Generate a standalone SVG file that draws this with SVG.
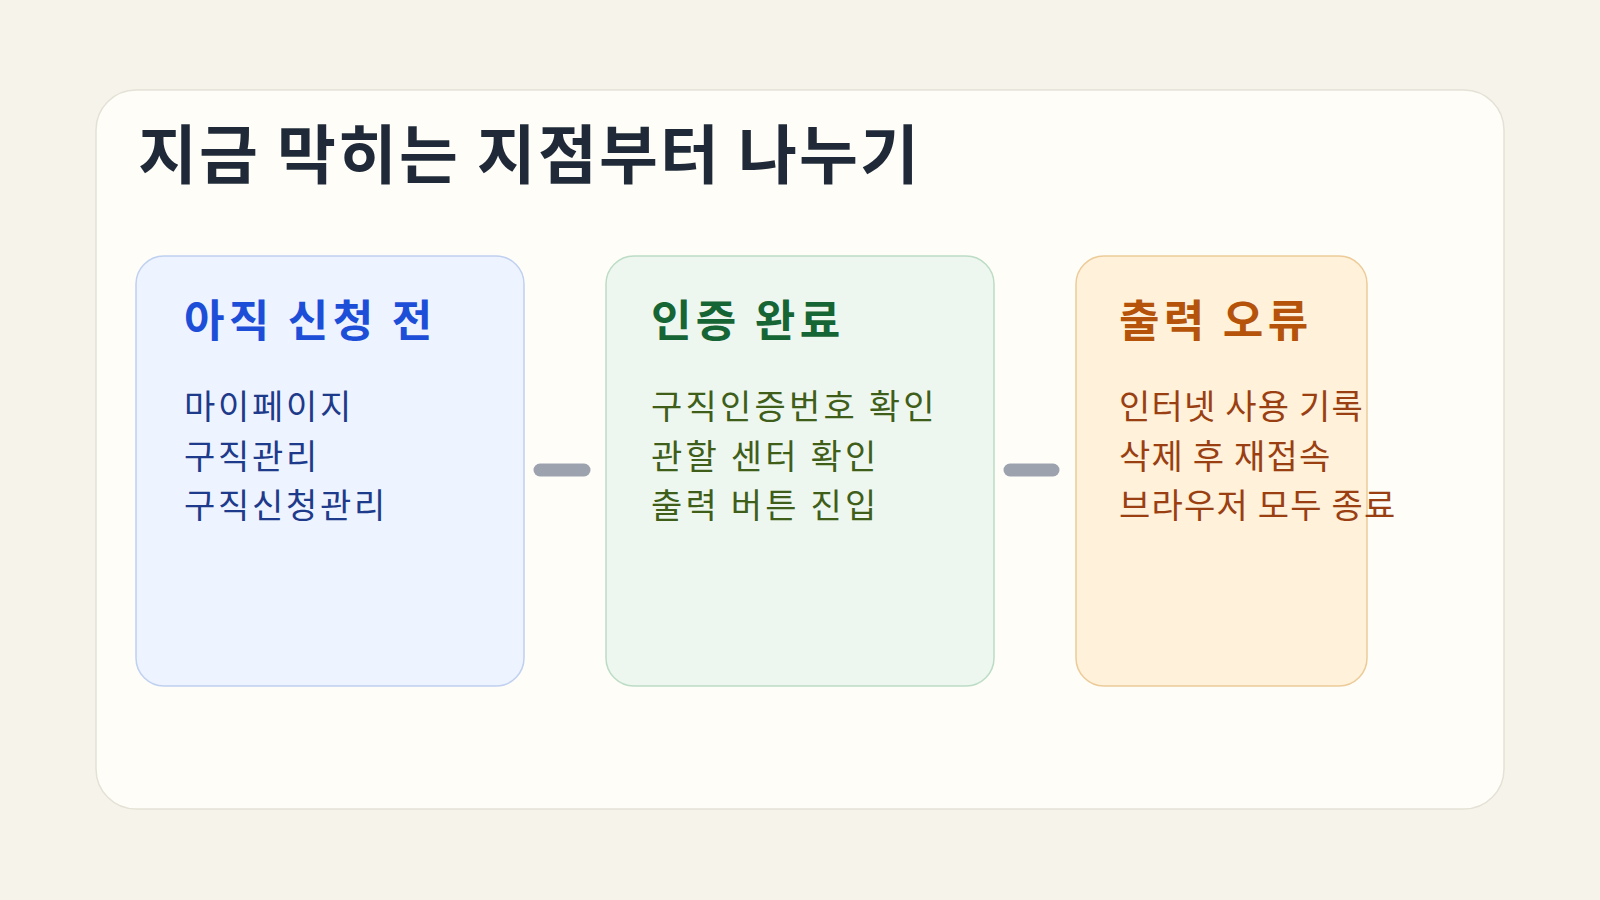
<svg xmlns="http://www.w3.org/2000/svg" width="1600" height="900" viewBox="0 0 1600 900">
<style>
text{font-family:"Noto Sans CJK KR","Noto Sans",sans-serif}
.title{font-size:64px;font-weight:700;fill:#1f2937;letter-spacing:2.2px}
.h{font-size:44px;font-weight:700;letter-spacing:4.3px}
.b{font-size:34px;font-weight:400;letter-spacing:2.7px}
.b2{letter-spacing:3.2px}
.b3{letter-spacing:1.2px}
.conn{stroke:#9ca3af;stroke-width:13;stroke-linecap:round;fill:none}
</style>
<rect width="1600" height="900" fill="#f6f4ea"/>
<rect x="96" y="90" width="1408" height="719" rx="40" fill="#fefdf8" stroke="#e4e1d6" stroke-width="1.5"/>
<text class="title" x="138" y="178">지금 막히는 지점부터 나누기</text>
<g id="connectors">
<line class="conn" x1="540" y1="470" x2="584" y2="470"/>
<line class="conn" x1="1010" y1="470" x2="1053" y2="470"/>
</g>
<g id="node-1">
<rect x="136" y="256" width="388" height="430" rx="28" fill="#edf3ff" stroke="#bfd0f0" stroke-width="1.5"/>
<text class="h" x="184" y="337" fill="#1d4ed8">아직 신청 전</text>
<text class="b" fill="#1e3a8a"><tspan x="184" y="418.5">마이페이지</tspan><tspan x="184" y="468.5">구직관리</tspan><tspan x="184" y="517.5">구직신청관리</tspan></text>
</g>
<g id="node-2">
<rect x="606" y="256" width="388" height="430" rx="28" fill="#edf7ef" stroke="#bcdcc5" stroke-width="1.5"/>
<text class="h" x="651" y="337" fill="#166534">인증 완료</text>
<text class="b b2" fill="#3f5e1a"><tspan x="651" y="418.5">구직인증번호 확인</tspan><tspan x="651" y="468.5">관할 센터 확인</tspan><tspan x="651" y="517.5">출력 버튼 진입</tspan></text>
</g>
<g id="node-3">
<rect x="1076" y="256" width="291" height="430" rx="28" fill="#fff1da" stroke="#eccb98" stroke-width="1.5"/>
<text class="h" x="1119" y="337" fill="#b45309">출력 오류</text>
<text class="b b3" fill="#9a3f12"><tspan x="1119" y="418.5">인터넷 사용 기록</tspan><tspan x="1119" y="468.5">삭제 후 재접속</tspan><tspan x="1119" y="517.5">브라우저 모두 종료</tspan></text>
</g>
</svg>
